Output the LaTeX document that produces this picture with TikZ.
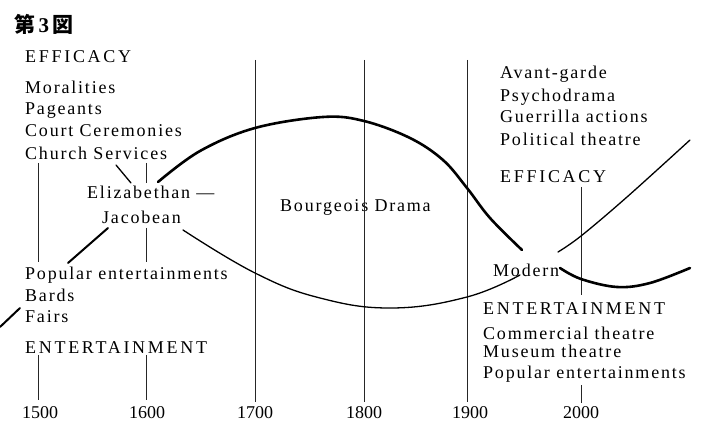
\documentclass[tikz,border=0pt]{standalone}
\usepackage{fontspec}
\setmainfont{Liberation Serif}
\newfontfamily\jpfont{Noto Sans CJK JP}
\begin{document}
\begin{tikzpicture}[x=1pt,y=-1pt,
  txt/.style={anchor=base west,inner sep=0pt,font=\fontsize{18}{20}\selectfont\addfontfeature{LetterSpace=10}},
  captxt/.style={anchor=base west,inner sep=0pt,font=\fontsize{18}{20}\selectfont\addfontfeature{LetterSpace=15}},
  yr/.style={anchor=base,inner sep=0pt,font=\fontsize{18}{20}\selectfont},
  gridline/.style={line width=0.8pt,black!85},
  thinline/.style={line width=1.3pt,line cap=round},
  boldline/.style={line width=2.6pt,line cap=round}]
\useasboundingbox (0,0) rectangle (707,430);

% title
\node[anchor=base west,inner sep=0pt,font=\jpfont\bfseries\fontsize{21}{22}\selectfont] (title) at (14,33) {第\,{\rmfamily\bfseries 3}\,図};

% left texts
\node[captxt] (effL) at (25,63) {EFFICACY};
\node[txt] (mor) at (25,94) {Moralities};
\node[txt] (pag) at (25,115) {Pageants};
\node[txt] (court) at (25,137) {Court Ceremonies};
\node[txt] (church) at (25,160) {Church Services};
\node[txt] (eliz) at (87,199) {Elizabethan —};
\node[txt] (jac) at (102,224) {Jacobean};
\node[txt] (popL) at (25,280) {Popular entertainments};
\node[txt] (bards) at (25,302) {Bards};
\node[txt] (fairs) at (25,323) {Fairs};
\node[captxt] (entL) at (25,353) {ENTERTAINMENT};

% middle
\node[txt] (bourg) at (280,212) {Bourgeois Drama};

% right texts
\node[txt] (avant) at (500,79) {Avant-garde};
\node[txt] (psy) at (500,102) {Psychodrama};
\node[txt] (guer) at (500,123) {Guerrilla actions};
\node[txt] (pol) at (500,146) {Political theatre};
\node[captxt] (effR) at (500,183) {EFFICACY};
\node[txt] (modern) at (493,277) {Modern};
\node[captxt] (entR) at (483,315) {ENTERTAINMENT};
\node[txt] (comm) at (483,340) {Commercial theatre};
\node[txt] (mus) at (483,358) {Museum theatre};
\node[txt] (popR) at (483,378) {Popular entertainments};

% years
\node[yr] (y1500) at (40,418) {1500};
\node[yr] (y1600) at (147,418) {1600};
\node[yr] (y1700) at (255,418) {1700};
\node[yr] (y1800) at (364,418) {1800};
\node[yr] (y1900) at (470,418) {1900};
\node[yr] (y2000) at (581,418) {2000};

% vertical grid lines
\draw[gridline] (38,163) -- (38,262);
\draw[gridline] (38,355) -- (38,400);
\draw[gridline] (146,163) -- (146,183);
\draw[gridline] (146,228) -- (146,262);
\draw[gridline] (146,355) -- (146,400);
\draw[gridline] (255,60) -- (255,402);
\draw[gridline] (364,60) -- (364,402);
\draw[gridline] (467,60) -- (467,402);
\draw[gridline] (581,187) -- (581,295);
\draw[gridline] (581,385) -- (581,403);

% short connectors
\draw[thinline] (116,165) -- (131,183);
\draw[boldline,line width=2pt] (68,263) -- (108,228);
\draw[boldline,line width=2pt] (0,327) -- (20,308);

% thick curve (upper)
\draw[boldline] plot[smooth,tension=0.6] coordinates {(158,182) (200,151) (255,128) (323,117) (364,121) (410,138) (443,160) (467,188) (490,218) (522,250)};
% thin curve (lower)
\draw[thinline] plot[smooth,tension=0.7] coordinates {(183,230) (255,273) (320,298) (392,308) (467,297) (520,275)};
% right thick
\draw[boldline] plot[smooth,tension=0.6] coordinates {(560,268) (581,279) (617,287) (650,283) (690,268)};
% right thin
\draw[thinline] plot[smooth,tension=0.6] coordinates {(558,252) (581,236) (627,197) (690,140)};
\end{tikzpicture}
\end{document}
